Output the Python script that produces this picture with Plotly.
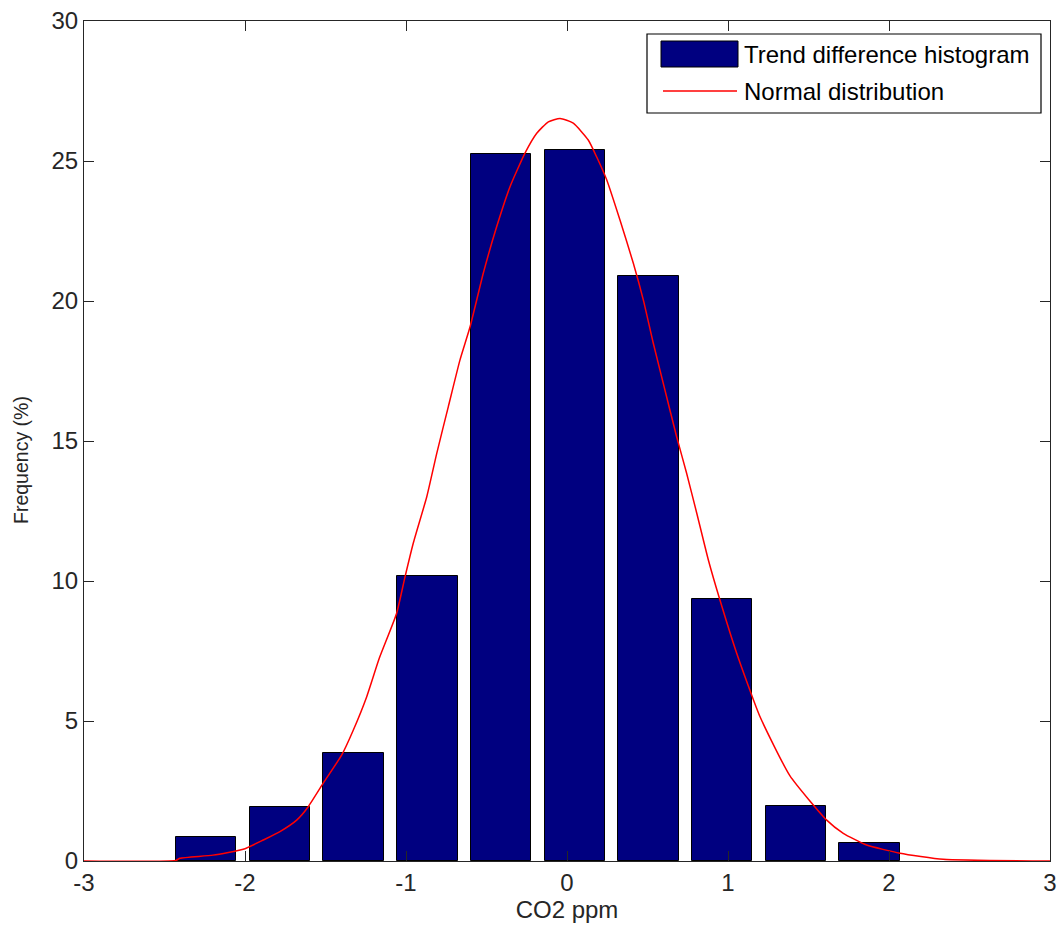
import plotly.graph_objects as go

# Histogram of the trend differences (bin centres in ppm, frequency in %)
bin_centers = [-2.241, -1.783, -1.325, -0.867, -0.409, 0.049, 0.506, 0.964, 1.422, 1.880]
freq_pct = [0.86, 1.94, 3.84, 10.17, 25.26, 25.38, 20.9, 9.37, 1.95, 0.65]
bar_width = 0.375

# Fitted normal distribution, sampled along the x axis
curve_x = [-3.0, -2.43, -2.404, -2.199, -2.011, -1.886, -1.783, -1.679, -1.607, -1.514,
           -1.399, -1.327, -1.244, -1.166, -1.058, -1.006, -0.955, -0.871, -0.809, -0.737,
           -0.665, -0.602, -0.520, -0.437, -0.354, -0.261, -0.188, -0.116, -0.043, 0.039,
           0.132, 0.184, 0.247, 0.329, 0.412, 0.474, 0.536, 0.598, 0.681, 0.743,
           0.806, 0.878, 0.950, 1.054, 1.199, 1.385, 1.613, 1.716, 1.861, 2.068,
           2.337, 3.0]
curve_y = [0.0, 0.02, 0.10, 0.21, 0.42, 0.75, 1.05, 1.46, 1.94, 2.78,
           3.79, 4.68, 5.87, 7.24, 8.85, 10.15, 11.35, 13.01, 14.56, 16.23,
           17.89, 19.08, 20.99, 22.65, 24.08, 25.28, 25.99, 26.40, 26.52, 26.35,
           25.75, 25.15, 24.32, 22.89, 21.35, 20.04, 18.49, 17.06, 15.15, 13.85,
           12.42, 10.75, 9.32, 7.42, 5.15, 3.04, 1.46, 0.99, 0.57, 0.28,
           0.06, 0.0]

x_ticks = [-3, -2, -1, 0, 1, 2, 3]
y_ticks = [0, 5, 10, 15, 20, 25, 30]

legend_labels = ["Trend difference histogram", "Normal distribution"]
x_title = "CO2 ppm"
y_title = "Frequency (%)"

BAR_COLOR = "#000080"
LINE_COLOR = "#FF0000"
AXIS_COLOR = "#262626"
FONT = "Liberation Sans, Arial, sans-serif"
FSIZE = 24

W, H = 1058, 928
ML, MR, MT, MB = 84, 8, 21, 67

fig = go.Figure()
fig.add_trace(go.Bar(
    x=bin_centers, y=freq_pct, width=bar_width,
    marker=dict(color=BAR_COLOR, line=dict(color="black", width=1)),
    name=legend_labels[0], showlegend=False,
))
fig.add_trace(go.Scatter(
    x=curve_x, y=curve_y, mode="lines",
    line=dict(color=LINE_COLOR, width=1.5, shape="spline", smoothing=0.5),
    name=legend_labels[1], showlegend=False,
))

axis_common = dict(
    showgrid=False, zeroline=False, showline=True, linecolor=AXIS_COLOR, linewidth=1,
    mirror="ticks", ticks="inside", ticklen=10, tickwidth=1, tickcolor=AXIS_COLOR,
    tickfont=dict(family=FONT, size=FSIZE, color=AXIS_COLOR),
    automargin=False, ticklabeloverflow="allow",
)
fig.update_xaxes(range=[-3, 3], tickvals=x_ticks, ticktext=[str(v) for v in x_ticks],
                 title=dict(text=x_title, font=dict(family=FONT, size=FSIZE, color=AXIS_COLOR),
                            standoff=6),
                 **axis_common)
fig.update_yaxes(range=[0, 30], tickvals=y_ticks, ticktext=[str(v) for v in y_ticks],
                 **axis_common)

# Legend box and y-axis label placed in pixel space converted to paper coordinates
pw, ph = W - ML - MR, H - MT - MB


def px(x):
    return (x - ML) / pw


def py(y):
    return (H - MB - y) / ph


shapes = [
    dict(type="rect", xref="paper", yref="paper", x0=px(647), x1=px(1041), y0=py(113), y1=py(34),
         line=dict(color="black", width=1.2), fillcolor="white", layer="above"),
    dict(type="rect", xref="paper", yref="paper", x0=px(661), x1=px(738), y0=py(67), y1=py(41),
         line=dict(color="black", width=1), fillcolor=BAR_COLOR, layer="above"),
    dict(type="line", xref="paper", yref="paper", x0=px(663), x1=px(737), y0=py(91), y1=py(91),
         line=dict(color=LINE_COLOR, width=1.5), layer="above"),
]
annotations = [
    dict(xref="paper", yref="paper", x=px(742), y=py(55), text=legend_labels[0], showarrow=False,
         xanchor="left", yanchor="middle", font=dict(family=FONT, size=FSIZE, color="black")),
    dict(xref="paper", yref="paper", x=px(742), y=py(91), text=legend_labels[1], showarrow=False,
         xanchor="left", yanchor="middle", font=dict(family=FONT, size=FSIZE, color="black")),
    dict(xref="paper", yref="paper", x=px(21), y=py(460), text=y_title, showarrow=False,
         textangle=-90, xanchor="center", yanchor="middle",
         font=dict(family=FONT, size=19.5, color=AXIS_COLOR)),
]

fig.update_layout(
    width=W, height=H,
    margin=dict(l=ML, r=MR, t=MT, b=MB),
    paper_bgcolor="white", plot_bgcolor="white",
    bargap=0, showlegend=False,
    shapes=shapes, annotations=annotations,
)

fig.write_html("out.html")
